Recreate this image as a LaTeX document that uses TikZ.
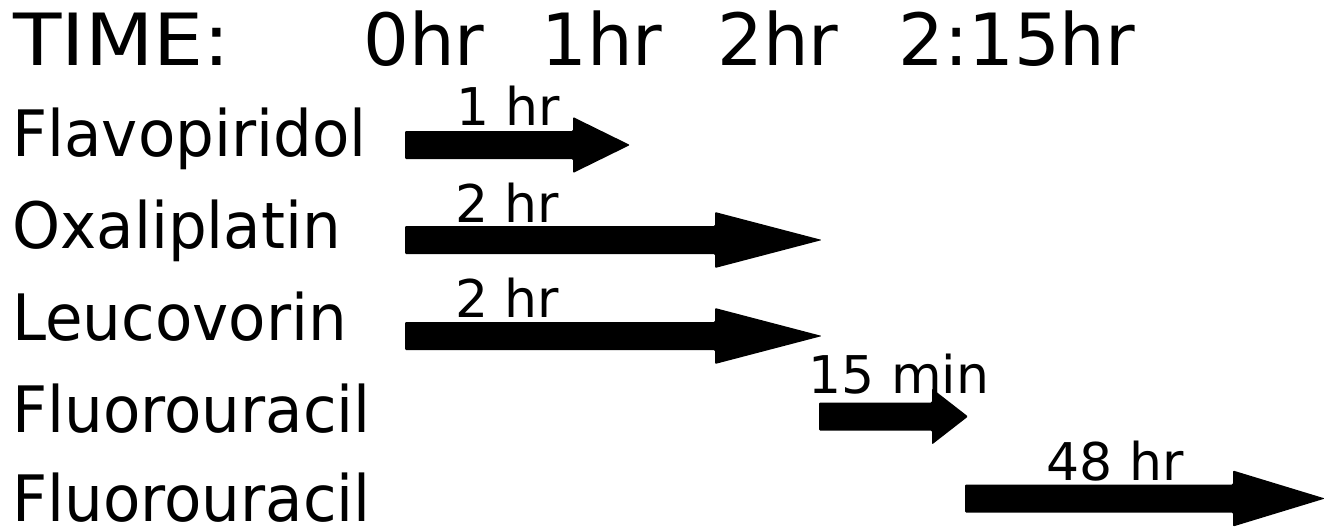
\documentclass[tikz,border=0pt]{standalone}
\usepackage{fontspec}
\setmainfont{DejaVu Sans}
\newfontfamily\headfont[FakeStretch=1.1]{DejaVu Sans}
\newfontfamily\drugfont[FakeStretch=0.955]{DejaVu Sans}

% block arrow: #1 name, #2 start x, #3 head base x, #4 tip x, #5 centre y
\newcommand\dosearrow[5]{%
  \coordinate (#1-start) at (#2,#5);
  \coordinate (#1-tip) at (#4,#5);
  \fill[blockarrow] (#2,#5-14) -- (#3,#5-14) -- (#3,#5-28) -- (#1-tip)
    -- (#3,#5+28) -- (#3,#5+14) -- (#2,#5+14) -- cycle;
}

\tikzset{
  headlabel/.style={font=\headfont\fontsize{54}{60}\selectfont, anchor=base west, inner sep=0pt},
  timelabel/.style={font=\fontsize{54}{60}\selectfont, anchor=base west, inner sep=0pt},
  druglabel/.style={font=\drugfont\fontsize{48}{52}\selectfont, anchor=base west, inner sep=0pt},
  durlabel/.style={font=\fontsize{39}{42}\selectfont, anchor=base, inner sep=0pt},
  blockarrow/.style={fill=black, draw=none, rounded corners=0.8pt}
}

\begin{document}
\begin{tikzpicture}[x=0.75pt, y=-0.75pt]
  \useasboundingbox (0,0) rectangle (1332,529);

  % time axis header
  \node[headlabel] (time) at (13,65) {TIME:};
  \node[timelabel] (t0) at (363,65) {0hr};
  \node[timelabel] (t1) at (541,65) {1hr};
  \node[timelabel] (t2) at (717,65) {2hr};
  \node[timelabel] (t3) at (898,65) {2:15hr};

  % drug names
  \node[druglabel] (flavo) at (12,156) {Flavopiridol};
  \node[druglabel] (oxali) at (12,248) {Oxaliplatin};
  \node[druglabel] (leuco) at (12,340) {Leucovorin};
  \node[druglabel] (fluA) at (12,432) {Fluorouracil};
  \node[druglabel] (fluB) at (12,521) {Fluorouracil};

  % infusion arrows
  \dosearrow{a1}{405}{573}{630}{145}
  \dosearrow{a2}{405}{715}{822}{240}
  \dosearrow{a3}{405}{715}{822}{336}
  \dosearrow{a4}{819}{932}{968}{416.5}
  \dosearrow{a5}{965}{1233}{1325}{498.5}

  % durations
  \node[durlabel] (d1) at (508,125) {1 hr};
  \node[durlabel] (d2) at (507,222) {2 hr};
  \node[durlabel] (d3) at (507,317) {2 hr};
  \node[durlabel] (d4) at (899,393) {15 min};
  \node[durlabel] (d5) at (1115,480) {48 hr};
\end{tikzpicture}
\end{document}
